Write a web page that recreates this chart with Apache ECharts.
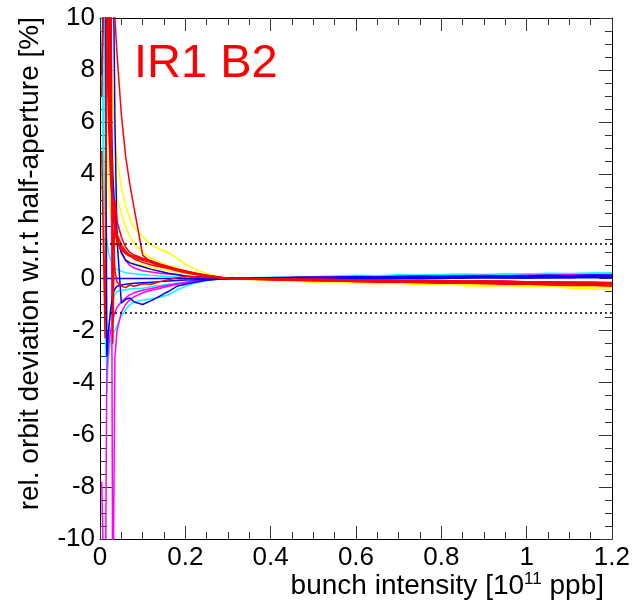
<!DOCTYPE html>
<html>
<head>
<meta charset="utf-8">
<script src="https://cdn.jsdelivr.net/npm/echarts@6/dist/echarts.min.js"></script>
<style>
html,body{margin:0;padding:0;background:#fff;}
#chart{width:633px;height:606px;}
</style>
</head>
<body>
<div id="chart"></div>
<script>
// x values: bunch intensity [1e11 ppb]
const intensity = [0.004,0.008,0.012,0.016,0.02,0.025,0.03,0.035,0.04,0.05,0.06,0.07,0.08,0.1,0.12,0.14,0.16,0.18,0.2,0.22,0.25,0.28,0.3,
  0.35,0.4,0.45,0.5,0.55,0.6,0.65,0.7,0.75,0.8,0.85,0.9,0.95,1.0,1.05,1.1,1.15,1.2];

// relative orbit deviation [%] per bunch trace
const yellow1 = [null,null,null,null,14,9,7,5.5,4.6,3.5,2.8,2.3,1.95,1.6,1.3,1.12,1.0,0.78,0.55,0.38,0.18,0.06,0,
  -0.04,-0.08,-0.1,-0.14,-0.12,-0.18,-0.2,-0.17,-0.23,-0.22,-0.27,-0.3,-0.26,-0.32,-0.3,-0.36,-0.39,-0.43];
const yellow2 = [null,null,null,14,8,5.8,4.6,3.7,3.1,2.5,2.0,1.6,1.35,1.0,0.78,0.62,0.5,0.4,0.3,0.22,0.12,0.05,0,
  -0.03,-0.06,-0.09,-0.08,-0.13,-0.15,-0.14,-0.19,-0.18,-0.22,-0.21,-0.25,-0.28,-0.26,-0.3,-0.29,-0.33,-0.35];
const yellow3 = [null,14,8,5,3.5,2.4,1.8,1.4,1.15,0.9,0.75,0.65,0.58,0.5,0.42,0.36,0.3,0.25,0.2,0.15,0.08,0.03,0,
  -0.02,-0.05,-0.04,-0.07,-0.09,-0.08,-0.12,-0.11,-0.14,-0.16,-0.15,-0.19,-0.18,-0.21,-0.24,-0.22,-0.26,-0.28];
const cyan1 = [null,14,6,-4.4,-3.0,-2.4,-2.1,-2.0,-1.8,-1.45,-1.2,-1.0,-0.9,-0.83,-0.78,-0.72,-0.63,-0.45,-0.3,-0.18,-0.08,-0.03,0,
  0.03,0.05,0.08,0.07,0.1,0.12,0.11,0.14,0.13,0.15,0.17,0.15,0.18,0.17,0.2,0.19,0.21,0.22];
const cyan2 = [14,3,-2,-3.5,-2,-1.2,-0.8,-0.6,-0.5,-0.45,-0.43,-0.4,-0.38,-0.37,-0.32,-0.27,-0.22,-0.18,-0.14,-0.1,-0.06,-0.02,0,
  0.02,0.04,0.06,0.05,0.08,0.07,0.1,0.09,0.11,0.13,0.12,0.14,0.13,0.15,0.16,0.15,0.18,0.17];
const cyan3 = [14,5,2.5,1.5,1.0,0.7,0.5,0.4,0.35,0.28,0.22,0.2,0.18,0.15,0.12,0.1,0.08,0.06,0.05,0.03,0.02,0.01,0,
  0.01,0.02,0.04,0.03,0.05,0.06,0.05,0.07,0.08,0.07,0.09,0.1,0.09,0.11,0.12,0.11,0.13,0.14];
const magenta1 = [-7.8,-7.8,-14,-3.5,-2.6,-2.0,-1.6,-1.3,-1.1,-0.9,-0.75,-0.62,-0.55,-0.45,-0.38,-0.32,-0.26,-0.2,-0.15,-0.1,-0.05,-0.02,0,
  0.02,0.03,0.05,0.06,0.05,0.08,0.07,0.09,0.1,0.09,0.11,0.12,0.1,0.13,0.12,0.14,0.13,0.15];
const magenta2 = [null,null,null,null,null,14,-14,-3,-2.0,-1.3,-1.0,-0.82,-0.7,-0.55,-0.45,-0.38,-0.3,-0.22,-0.16,-0.1,-0.05,-0.02,0,
  0.01,0.03,0.02,0.04,0.06,0.05,0.07,0.06,0.08,0.09,0.08,0.1,0.11,0.1,0.12,0.11,0.13,0.12];
const magenta3 = [null,null,null,14,9,5,3,2,1.5,1.0,0.7,0.5,0.4,0.3,0.25,0.2,0.17,0.14,0.1,0.07,0.04,0.02,0,
  0.0,0.01,0.03,0.02,0.03,0.05,0.04,0.06,0.05,0.07,0.06,0.08,0.07,0.09,0.08,0.1,0.09,0.1];
const blue1 = [0,0,0,0,0,0,0,0,0,0,0,0,0,0,0,0,0,0,0,0,0,0,0,
  0.01,0.02,0.03,0.02,0.04,0.05,0.04,0.06,0.05,0.07,0.06,0.07,0.08,0.07,0.09,0.08,0.09,0.1];
const blue2 = [null,null,null,null,null,null,14,6,1.5,-0.95,-0.8,-0.75,-0.9,-1.0,-0.85,-0.68,-0.5,-0.3,-0.22,-0.15,-0.07,-0.02,0,
  0.0,0.01,0.0,0.02,0.01,0.03,0.02,0.04,0.03,0.02,0.04,0.05,0.03,0.05,0.04,0.06,0.05,0.06];
const blue3 = [null,null,null,null,14,7,4,2.5,1.6,1.0,0.7,0.6,0.55,0.45,0.35,0.28,0.2,0.15,0.1,0.07,0.04,0.02,0,
  0.01,0.03,0.04,0.06,0.05,0.07,0.06,0.08,0.09,0.08,0.1,0.09,0.11,0.1,0.12,0.11,0.13,0.12];
const blue4 = [7.8,7.8,14,-3,-2,-1.2,-0.6,-0.4,-0.3,-0.25,-0.22,-0.2,-0.18,-0.16,-0.14,-0.12,-0.1,-0.08,-0.06,-0.05,-0.03,-0.01,0,
  -0.01,0.0,-0.02,0.01,0.0,-0.01,0.02,0.01,0.0,0.02,0.01,0.03,0.02,0.01,0.03,0.02,0.04,0.03];
const red1 = [null,null,null,null,null,null,14,10,8.6,6.3,4.7,3.6,2.7,0.9,0.62,0.5,0.42,0.35,0.28,0.2,0.12,0.05,0,
  -0.03,-0.05,-0.04,-0.07,-0.09,-0.08,-0.11,-0.13,-0.12,-0.15,-0.14,-0.17,-0.16,-0.19,-0.21,-0.2,-0.23,-0.25];
const red2 = [7.0,7.0,14,9,6,3.8,2.6,1.9,1.5,1.2,1.0,0.9,0.85,0.75,0.65,0.55,0.45,0.36,0.28,0.2,0.12,0.05,0,
  -0.02,-0.04,-0.06,-0.05,-0.08,-0.07,-0.1,-0.12,-0.11,-0.14,-0.13,-0.16,-0.18,-0.17,-0.2,-0.19,-0.22,-0.21];
const red3 = [null,null,null,14,8,4.5,3.0,2.1,1.7,1.3,1.05,0.9,0.75,0.62,0.52,0.45,0.38,0.3,0.22,0.16,0.09,0.04,0,
  -0.01,-0.02,-0.03,-0.05,-0.04,-0.06,-0.05,-0.07,-0.09,-0.08,-0.1,-0.11,-0.1,-0.12,-0.14,-0.13,-0.15,-0.16];
const red4 = [null,null,null,null,14,6,2,0.3,-0.15,-0.3,-0.35,-0.25,-0.3,-0.2,-0.22,-0.12,-0.05,0.03,0.08,0.07,0.04,0.02,0,
  0.0,-0.01,-0.03,-0.02,-0.04,-0.06,-0.05,-0.07,-0.06,-0.08,-0.1,-0.09,-0.11,-0.13,-0.12,-0.14,-0.13,-0.15];
const red5 = [4.9,4.9,-2.3,14,7,4,2.6,1.8,1.4,1.1,0.95,0.85,0.8,0.7,0.6,0.5,0.42,0.35,0.27,0.2,0.12,0.05,0,
  -0.02,-0.05,-0.07,-0.1,-0.09,-0.12,-0.14,-0.13,-0.16,-0.18,-0.17,-0.2,-0.22,-0.21,-0.25,-0.27,-0.26,-0.3];
const red6 = [null,null,null,null,null,14,-2.5,3,2.2,1.6,1.2,1.0,0.9,0.78,0.68,0.56,0.46,0.37,0.3,0.22,0.13,0.05,0,
  -0.01,-0.03,-0.02,-0.05,-0.07,-0.06,-0.09,-0.08,-0.1,-0.12,-0.11,-0.13,-0.15,-0.14,-0.17,-0.16,-0.19,-0.18];

// tolerance band [%]
const thresholds = [1.32, -1.32];
const xTicks = [0, 0.2, 0.4, 0.6, 0.8, 1, 1.2];
const yTicks = [-10, -8, -6, -4, -2, 0, 2, 4, 6, 8, 10];

const traces = [
  [yellow1,'#ffff00'],[yellow2,'#ffff00'],[yellow3,'#ffff00'],
  [cyan1,'#00ffff'],[cyan2,'#00ffff'],[cyan3,'#00ffff'],
  [magenta1,'#ff00ff'],[magenta2,'#ff00ff'],[magenta3,'#ff00ff'],
  [blue1,'#0000ff'],[blue2,'#0000ff'],[blue3,'#0000ff'],[blue4,'#0000ff'],
  [red1,'#ff0000'],[red2,'#ff0000'],[red3,'#ff0000'],[red4,'#ff0000'],[red5,'#ff0000'],[red6,'#ff0000']
];

const FONT = "'Liberation Sans', Arial, Helvetica, sans-serif";

const series = traces.map(([vals, col]) => ({
  type: 'line',
  xAxisIndex: 0, yAxisIndex: 0,
  showSymbol: false, symbol: 'none',
  clip: true,
  lineStyle: { color: col, width: 1.5 },
  data: intensity.map((x, i) => vals[i] == null ? null : [x, vals[i]]).filter(p => p),
  silent: true, animation: false
}));

series.push({
  type: 'line', xAxisIndex: 0, yAxisIndex: 0, data: [], silent: true, animation: false,
  markLine: {
    symbol: 'none', silent: true, label: { show: false },
    lineStyle: { color: '#000', type: [2, 3], width: 1.5 },
    data: thresholds.map(v => ({ yAxis: v }))
  }
});

const axisCommon = {
  axisLine: { show: true, onZero: false, lineStyle: { color: '#000', width: 1 } },
  splitLine: { show: false },
  axisTick: { show: true, inside: true, length: 13, lineStyle: { color: '#333', width: 1 } },
  minorTick: { show: true, splitNumber: 4, length: 7, lineStyle: { color: '#333', width: 1 } }
};

const chart = echarts.init(document.getElementById('chart'), null, { renderer: 'canvas' });
chart.setOption({
  animation: false,
  backgroundColor: '#fff',
  grid: { left: 100, top: 18, right: 18, bottom: 67, containLabel: false },
  xAxis: [
    Object.assign({}, axisCommon, {
      type: 'value', position: 'bottom', min: xTicks[0], max: xTicks[xTicks.length-1], interval: 0.2,
      axisLabel: { show: true, color: '#000', fontSize: 26, fontFamily: FONT, margin: 6,
        formatter: v => String(+v.toFixed(1)) }
    }),
    Object.assign({}, axisCommon, {
      type: 'value', position: 'top', min: xTicks[0], max: xTicks[xTicks.length-1], interval: 0.2,
      axisLabel: { show: false }
    })
  ],
  yAxis: [
    Object.assign({}, axisCommon, {
      type: 'value', position: 'left', min: yTicks[0], max: yTicks[yTicks.length-1], interval: 2,
      axisLabel: { show: true, color: '#000', fontSize: 26, fontFamily: FONT, margin: 5 }
    }),
    Object.assign({}, axisCommon, {
      type: 'value', position: 'right', min: yTicks[0], max: yTicks[yTicks.length-1], interval: 2,
      axisLabel: { show: false }
    })
  ],
  series: series,
  graphic: [
    { type: 'text', left: 134, top: 41, silent: true,
      style: { text: 'IR1 B2', fill: '#ff0000', font: '47px ' + FONT } },
    { type: 'text', x: 604, y: 601, silent: true,
      style: { text: '{a|bunch intensity [10}{s|11}{a| ppb]}', align: 'right', verticalAlign: 'bottom',
        rich: { a: { fontSize: 28, fontFamily: FONT, fill: '#000', color: '#000' },
                s: { fontSize: 17, fontFamily: FONT, fill: '#000', color: '#000', padding: [0, 0, 13, 0] } } } },
    { type: 'text', x: 30, y: 17, rotation: Math.PI / 2, silent: true,
      style: { text: 'rel. orbit deviation w.r.t half-aperture [%]', align: 'right', verticalAlign: 'middle',
        fill: '#000', font: '28px ' + FONT } }
  ]
});
</script>
</body>
</html>
